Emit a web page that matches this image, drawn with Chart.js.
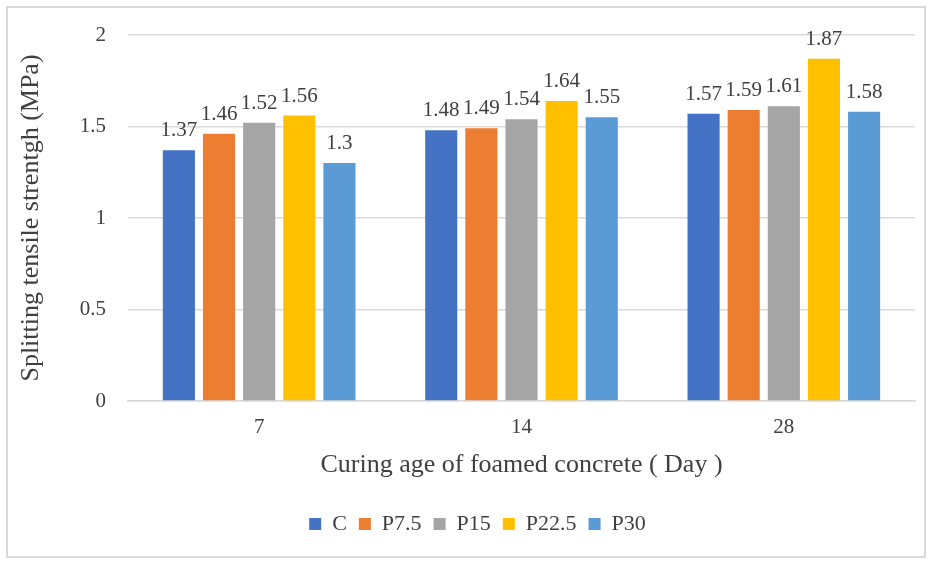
<!DOCTYPE html>
<html>
<head>
<meta charset="utf-8">
<script src="https://cdn.jsdelivr.net/npm/chart.js@4/dist/chart.umd.min.js"></script>
<style>
  html, body { margin: 0; padding: 0; background: #fff; }
  #wrap { position: relative; width: 933px; height: 565px; }
</style>
</head>
<body>
<div id="wrap"><canvas id="c" width="933" height="565"></canvas></div>
<script>
// Curing ages (days) on the x axis
const curingAges = ['7', '14', '28'];
// Mix names
const mixNames = ['C', 'P7.5', 'P15', 'P22.5', 'P30'];
// Splitting tensile strength (MPa) per mix, in curing-age order
const strengthC    = [1.37, 1.48, 1.57];
const strengthP75  = [1.46, 1.49, 1.59];
const strengthP15  = [1.52, 1.54, 1.61];
const strengthP225 = [1.56, 1.64, 1.87];
const strengthP30  = [1.30, 1.55, 1.58];
// Y-axis tick labels
const yTickLabels = ['0', '0.5', '1', '1.5', '2'];
const mixColors = ['#4472C4', '#ED7D31', '#A5A5A5', '#FFC000', '#5B9BD5'];

const seriesValues = [strengthC, strengthP75, strengthP15, strengthP225, strengthP30];
const FONT = "'Liberation Serif', 'Times New Roman', serif";

// Outer frame around the whole figure
const framePlugin = {
  id: 'frame',
  beforeDraw(chart) {
    const ctx = chart.ctx;
    ctx.save();
    ctx.fillStyle = '#fff';
    ctx.fillRect(0, 0, chart.width, chart.height);
    ctx.strokeStyle = '#d9d9d9';
    ctx.lineWidth = 2;
    ctx.strokeRect(7, 7, chart.width - 15, chart.height - 15);
    ctx.restore();
  }
};

// Nudge the legend a little to the right of centre
const legendShift = {
  id: 'legendShift',
  afterLayout(chart) {
    if (chart.legend) {
      chart.legend.left += 20;
      chart.legend.right += 20;
    }
  }
};

// Value labels above each bar
const valueLabels = {
  id: 'valueLabels',
  afterDatasetsDraw(chart) {
    const ctx = chart.ctx;
    ctx.save();
    ctx.font = '21px ' + FONT;
    ctx.fillStyle = '#404040';
    ctx.textAlign = 'center';
    ctx.textBaseline = 'alphabetic';
    chart.data.datasets.forEach((ds, i) => {
      chart.getDatasetMeta(i).data.forEach((bar, j) => {
        ctx.fillText(String(ds.data[j]), bar.x, bar.y - 14);
      });
    });
    ctx.restore();
  }
};

new Chart(document.getElementById('c'), {
  type: 'bar',
  data: {
    labels: curingAges,
    datasets: mixNames.map((name, i) => ({
      label: name,
      data: seriesValues[i],
      backgroundColor: mixColors[i],
      borderWidth: 0,
      barPercentage: 0.8,
      categoryPercentage: 0.765
    }))
  },
  options: {
    responsive: false,
    animation: false,
    devicePixelRatio: 1,
    layout: { padding: { top: 35, right: 18, left: 0, bottom: 20 } },
    plugins: {
      legend: {
        position: 'bottom',
        labels: {
          font: { family: FONT, size: 22 },
          color: '#404040',
          boxWidth: 12,
          boxHeight: 12,
          padding: 12
        }
      },
      tooltip: { enabled: false }
    },
    scales: {
      x: {
        grid: { display: false, drawTicks: false },
        border: { display: true, color: '#d9d9d9', width: 1.5 },
        ticks: { font: { family: FONT, size: 21 }, color: '#404040', padding: 14 },
        title: {
          display: true,
          text: 'Curing age of foamed concrete ( Day )',
          font: { family: FONT, size: 26 },
          color: '#404040',
          padding: { top: 4, bottom: 20 }
        },
        afterFit(scale) { scale.height = 100; }
      },
      y: {
        min: 0,
        max: 2,
        ticks: {
          stepSize: 0.5,
          font: { family: FONT, size: 21 },
          color: '#404040',
          padding: 22,
          callback: (v, i) => yTickLabels[i]
        },
        grid: { color: '#d9d9d9', lineWidth: 1.5, drawTicks: false },
        border: { display: false },
        title: {
          display: true,
          text: 'Splitting tensile strentgh (MPa)',
          font: { family: FONT, size: 26 },
          color: '#404040',
          padding: { top: 16, bottom: 4 }
        },
        afterFit(scale) { scale.width = 128; }
      }
    }
  },
  plugins: [framePlugin, legendShift, valueLabels]
});
</script>
</body>
</html>
